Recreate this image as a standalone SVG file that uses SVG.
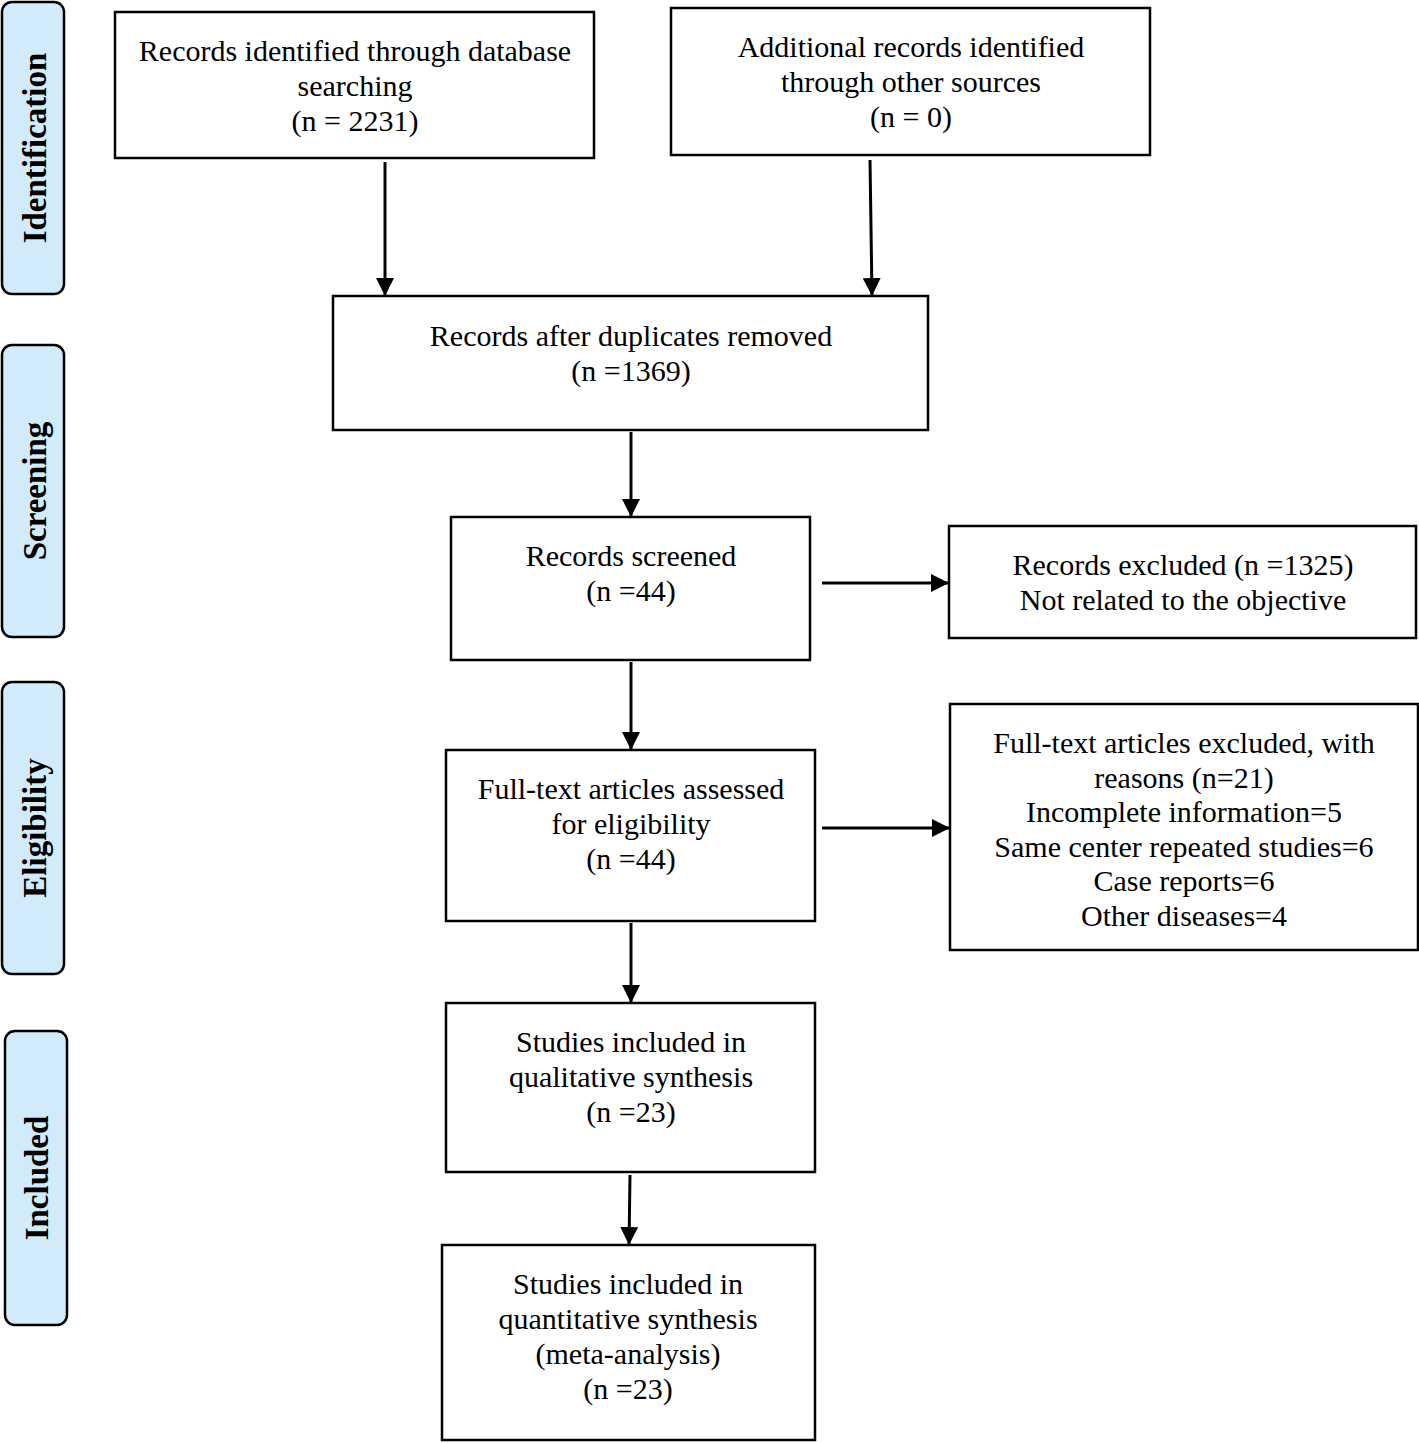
<svg xmlns="http://www.w3.org/2000/svg" width="1419" height="1443" viewBox="0 0 1419 1443">
<style>
.box{fill:#fff;stroke:#000;stroke-width:2.5}
.side{fill:#d2ebfb;stroke:#000;stroke-width:2.5}
.t{font-family:"Liberation Serif","Times New Roman",serif;font-size:30px;text-anchor:middle;fill:#000}
.s{font-family:"Liberation Serif","Times New Roman",serif;font-size:33px;font-weight:bold;text-anchor:middle;fill:#000}
.c{stroke:#000;stroke-width:3;fill:none;marker-end:url(#ah)}
</style>
<defs>
<marker id="ah" markerWidth="6" markerHeight="6" refX="6" refY="3" orient="auto" markerUnits="strokeWidth">
<path d="M0,0 L6,3 L0,6 Z" fill="#000"/>
</marker>
</defs>
<rect width="1419" height="1443" fill="#fff"/>
<g id="side-identification"><rect class="side" x="2" y="2" width="62" height="292" rx="10"/><text class="s" transform="translate(46,148) rotate(-90)">Identification</text></g>
<g id="side-screening"><rect class="side" x="2" y="345" width="62" height="292" rx="10"/><text class="s" transform="translate(46,491) rotate(-90)">Screening</text></g>
<g id="side-eligibility"><rect class="side" x="2" y="682" width="62" height="292" rx="10"/><text class="s" transform="translate(46,828) rotate(-90)">Eligibility</text></g>
<g id="side-included"><rect class="side" x="5" y="1031" width="62" height="294" rx="10"/><text class="s" transform="translate(48,1178) rotate(-90)">Included</text></g>

<g id="n1"><rect class="box" x="115" y="12" width="479" height="146"/>
<text class="t" x="355" y="61">Records identified through database</text>
<text class="t" x="355" y="96">searching</text>
<text class="t" x="355" y="131">(n = 2231)</text></g>
<g id="n2"><rect class="box" x="671" y="8" width="479" height="147"/>
<text class="t" x="911" y="57">Additional records identified</text>
<text class="t" x="911" y="92">through other sources</text>
<text class="t" x="911" y="127">(n = 0)</text></g>
<g id="n3"><rect class="box" x="333" y="296" width="595" height="134"/>
<text class="t" x="631" y="346">Records after duplicates removed</text>
<text class="t" x="631" y="381">(n =1369)</text></g>
<g id="n4"><rect class="box" x="451" y="517" width="359" height="143"/>
<text class="t" x="631" y="566">Records screened</text>
<text class="t" x="631" y="601">(n =44)</text></g>
<g id="n5"><rect class="box" x="949" y="526" width="467" height="112"/>
<text class="t" x="1183" y="575">Records excluded (n =1325)</text>
<text class="t" x="1183" y="610">Not related to the objective</text></g>
<g id="n6"><rect class="box" x="446" y="750" width="369" height="171"/>
<text class="t" x="631" y="799">Full-text articles assessed</text>
<text class="t" x="631" y="834">for eligibility</text>
<text class="t" x="631" y="869">(n =44)</text></g>
<g id="n7"><rect class="box" x="950" y="704" width="468" height="246"/>
<text class="t" x="1184" y="753">Full-text articles excluded, with</text>
<text class="t" x="1184" y="788">reasons (n=21)</text>
<text class="t" x="1184" y="822">Incomplete information=5</text>
<text class="t" x="1184" y="857">Same center repeated studies=6</text>
<text class="t" x="1184" y="891">Case reports=6</text>
<text class="t" x="1184" y="926">Other diseases=4</text></g>
<g id="n8"><rect class="box" x="446" y="1003" width="369" height="169"/>
<text class="t" x="631" y="1052">Studies included in</text>
<text class="t" x="631" y="1087">qualitative synthesis</text>
<text class="t" x="631" y="1122">(n =23)</text></g>
<g id="n9"><rect class="box" x="442" y="1245" width="373" height="195"/>
<text class="t" x="628" y="1294">Studies included in</text>
<text class="t" x="628" y="1329">quantitative synthesis</text>
<text class="t" x="628" y="1364">(meta-analysis)</text>
<text class="t" x="628" y="1399">(n =23)</text></g>

<g id="connectors">
<line class="c" x1="385" y1="162" x2="385" y2="296"/>
<line class="c" x1="870" y1="160" x2="872" y2="296"/>
<line class="c" x1="631" y1="432" x2="631" y2="517"/>
<line class="c" x1="631" y1="662" x2="631" y2="750"/>
<line class="c" x1="631" y1="923" x2="631" y2="1003"/>
<line class="c" x1="630" y1="1175" x2="629" y2="1245"/>
<line class="c" x1="822" y1="583" x2="949" y2="583"/>
<line class="c" x1="822" y1="828" x2="950" y2="828"/>
</g>
</svg>
